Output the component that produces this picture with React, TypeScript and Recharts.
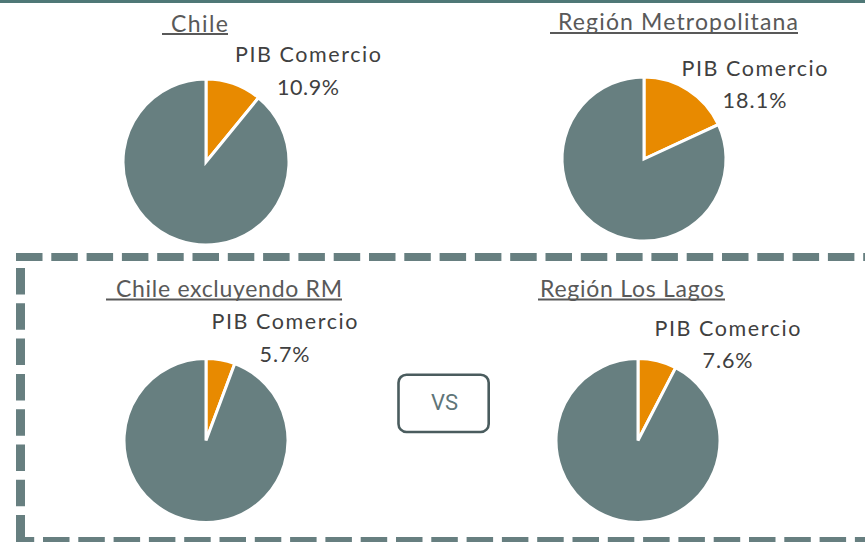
import React from "react";
import { PieChart, Pie, Cell } from "recharts";

// ---- data ----
const sliceNames = ["PIB Comercio", "Resto"];
const chileValues = [10.9, 89.1];
const rmValues = [18.1, 81.9];
const chileExRmValues = [5.7, 94.3];
const losLagosValues = [7.6, 92.4];
const pieTitles = ["Chile", "Región Metropolitana", "Chile excluyendo RM", "Región Los Lagos"];
const vsLabel = "VS";

// ---- styles / layout ----
const W = 865;
const H = 542;
const ORANGE = "#E88A00";
const GRAY = "#677F80";
const sliceColors = [ORANGE, GRAY];
const FONT = "Lato, 'Open Sans', 'Liberation Sans', sans-serif";

const pieLayout = [
  { cx: 206, cy: 162, r: 83 },
  { cx: 644, cy: 159, r: 82 },
  { cx: 206, cy: 440.5, r: 82 },
  { cx: 638, cy: 440.5, r: 82 },
];

const titleLayout = [
  { x: 171, y: 32, len: 57, ux1: 162, ux2: 228, uy: 33 },
  { x: 558, y: 30, len: 240, ux1: 550, ux2: 798, uy: 32 },
  { x: 116, y: 296.5, len: 226, ux1: 106, ux2: 342, uy: 298.5 },
  { x: 540, y: 297, len: 184, ux1: 538, ux2: 725, uy: 298.5 },
];

const labelLayout = [
  { cx: 308, y1: 62, y2: 95, pctLen: 62 },
  { cx: 754.5, y1: 76, y2: 108, pctLen: 64 },
  { cx: 284.5, y1: 329, y2: 362, pctLen: 50 },
  { cx: 727.5, y1: 336, y2: 368, pctLen: 50 },
];

const series = [chileValues, rmValues, chileExRmValues, losLagosValues];

const toData = (vals: number[]) => vals.map((v, i) => ({ name: sliceNames[i], value: v }));

export default function App() {
  return (
    <div style={{ position: "absolute", left: 0, top: 0, width: W, height: H, background: "#fff", overflow: "hidden" }}>
      <div style={{ position: "absolute", left: 0, top: 0 }}>
        <PieChart width={W} height={H} margin={{ top: 0, right: 0, bottom: 0, left: 0 }}>
          {series.map((vals, k) => (
            <Pie
              key={k}
              data={toData(vals)}
              dataKey="value"
              nameKey="name"
              cx={pieLayout[k].cx}
              cy={pieLayout[k].cy}
              innerRadius={0}
              outerRadius={pieLayout[k].r}
              startAngle={90}
              endAngle={-270}
              stroke="#ffffff"
              strokeWidth={3}
              isAnimationActive={false}
              label={false}
              labelLine={false}
            >
              {vals.map((_, i) => (
                <Cell key={i} fill={sliceColors[i]} stroke="#ffffff" strokeWidth={3} />
              ))}
            </Pie>
          ))}
        </PieChart>
      </div>
      <svg width={W} height={H} style={{ position: "absolute", left: 0, top: 0, pointerEvents: "none" }}>
        {/* top bar */}
        <rect x={0} y={0} width={W} height={3} fill="#4F7877" />
        {/* dashed frame */}
        <line x1={16} y1={257} x2={900} y2={257} stroke={GRAY} strokeWidth={8} strokeDasharray="26.5 8.8" />
        <line x1={20.5} y1={261} x2={20.5} y2={545} stroke={GRAY} strokeWidth={9} strokeDasharray="26.5 8.8" strokeDashoffset={28.3} />
        <line x1={16} y1={541} x2={900} y2={541} stroke={GRAY} strokeWidth={8} strokeDasharray="26.5 8.8" strokeDashoffset={8.3} />
        {/* titles */}
        {pieTitles.map((t, k) => {
          const L = titleLayout[k];
          return (
            <g key={k}>
              <text
                x={L.x}
                y={L.y}
                fontFamily={FONT}
                fontSize={23}
                fill="#595959"
                textLength={L.len}
                lengthAdjust="spacing"
              >
                {t}
              </text>
              <rect x={L.ux1} y={L.uy} width={L.ux2 - L.ux1} height={2} fill="#595959" />
            </g>
          );
        })}
        {/* slice labels */}
        {series.map((vals, k) => {
          const L = labelLayout[k];
          return (
            <g key={k} fontFamily={FONT} fontSize={21.5} fill="#404040">
              <text x={L.cx} y={L.y1} textAnchor="middle" textLength={146} lengthAdjust="spacing">
                {sliceNames[0]}
              </text>
              <text x={L.cx} y={L.y2} textAnchor="middle" textLength={L.pctLen} lengthAdjust="spacing">
                {vals[0].toFixed(1) + "%"}
              </text>
            </g>
          );
        })}
        {/* VS box */}
        <rect x={398.5} y={374.7} width={90.2} height={57.3} rx={8} ry={8} fill="#ffffff" stroke="#4A5C5E" strokeWidth={2.6} />
        <text
          x={444.5}
          y={409.5}
          textAnchor="middle"
          fontFamily="Roboto, 'Liberation Sans', sans-serif"
          fontSize={22}
          fill="#5F7578"
        >
          {vsLabel}
        </text>
      </svg>
    </div>
  );
}
